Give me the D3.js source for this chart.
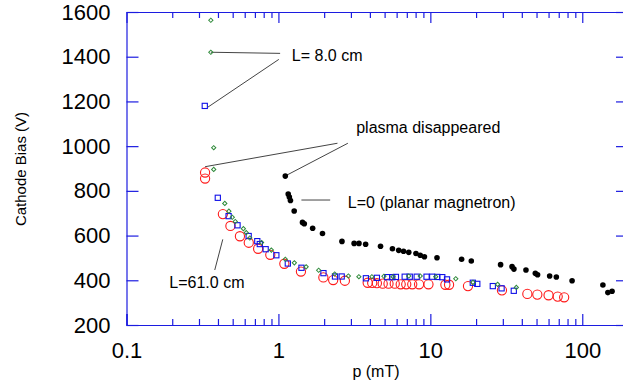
<!DOCTYPE html>
<html>
<head>
<meta charset="utf-8">
<script src="https://cdn.jsdelivr.net/npm/d3@7"></script>
<style>
  html, body { margin: 0; padding: 0; background: #fff; }
  svg { display: block; font-family: "Liberation Sans", Arial, Helvetica, sans-serif; }
</style>
</head>
<body>
<svg id="chart" width="623" height="389"></svg>
<script>
// ---- data (p in mT, cathode bias in V) ----
const blackP = [1.11,1.16,1.18,1.20,1.27,1.44,1.48,1.68,1.95,2.62,3.15,3.39,3.75,4.70,5.63,6.19,6.66,7.21,8.04,8.58,9.14,11.06,16.06,18.6,29.0,34.5,35.5,42.6,49.1,50.8,61.0,67.5,85.7,136.7,147.4,157.1];
const blackV = [866,786,772,757,710,659,653,633,609,574,565,565,561,552,541,534,530,525,520,512,505,501,494,486,470,461,450,446,431,425,419,415,398,379,345,351];

const redP = [0.329,0.329,0.431,0.483,0.558,0.638,0.735,0.884,1.094,1.407,1.976,2.293,2.738,3.869,4.143,4.448,4.858,5.304,5.83,6.38,6.94,7.60,8.43,9.72,12.56,13.28,17.69,29.6,43.5,50.6,60.0,68.9,76.0];
const redV = [882,855,696,643,597,568,541,514,474,439,413,401,398,389,388,387,385,385,385,382,382,382,382,382,380,380,374,355,339,336,333,327,324];

const blueP = [0.3275,0.399,0.470,0.538,0.637,0.726,0.754,0.824,0.969,1.153,1.418,1.979,2.357,2.609,3.765,4.448,5.202,5.61,5.934,6.78,7.32,8.13,9.44,10.29,11.1,11.98,12.88,19.03,20.37,25.77,29.44,35.42];
const blueV = [1180,769,687,646,598,575,562,539,512,475,456,432,417,417,409,411,414,414,415,416,416,416,416,416,415,414,404,389,384,374,364,353];

const greenP = [0.359,0.359,0.375,0.375,0.4435,0.472,0.497,0.520,0.588,0.614,0.648,0.775,0.898,1.110,1.273,1.522,1.840,2.346,2.887,3.385,4.124,4.948,5.680,7.206,8.580,10.85,14.70,19.08,27.72,36.81];
const greenV = [1563,1420,993,896,744,709,682,663,631,613,589,569,535,494,478,460,445,428,419,416,416,418,416,419,419,416,407,391,382,368];

const xMajorTicks = [0.1, 1, 10, 100];
const xTickLabels = ["0.1", "1", "10", "100"];
const yTicks = [200, 400, 600, 800, 1000, 1200, 1400, 1600];
const xTitle = "p (mT)";
const yTitle = "Cathode Bias (V)";

// annotations (text anchor / leader lines in data coordinates)
const annoTexts = [
  { t: "L= 8.0 cm", p: 1.225, v: 1381 },
  { t: "plasma disappeared", p: 3.25, v: 1059 },
  { t: "L=0 (planar magnetron)", p: 2.865, v: 725 },
  { t: "L=61.0 cm", p: 0.1914, v: 367 }
];
const annoLines = [
  [[0.359, 1420], [1.026, 1415]],
  [[1.006, 1388], [0.3426, 1174]],
  [[0.329, 908], [2.447, 1013]],
  [[1.119, 868], [2.865, 1013]],
  [[1.417, 759], [2.191, 759]],
  [[0.4302, 583], [0.381, 446]]
];

// ---- layout ----
const svg = d3.select("#chart");
const axisColor = "#1c1ce0";
const x = d3.scaleLog().domain([0.1, 200]).range([126.5, 628]);
const y = d3.scaleLinear().domain([200, 1600]).range([325, 12]);

const minorTicks = [];
[0.1, 1, 10, 100].forEach(d => { for (let k = 2; k <= 9; k++) { const v = d * k; if (v <= 200) minorTicks.push(+v.toPrecision(3)); } });

function styleAxis(g) {
  g.select(".domain").attr("stroke", axisColor).attr("stroke-width", 1.2);
  g.selectAll(".tick line").attr("stroke", axisColor).attr("stroke-width", 1.2);
  g.selectAll(".tick text").attr("fill", "#000").attr("font-size", 22)
    .attr("font-family", '"Liberation Sans", Arial, sans-serif');
}

// bottom axis
const gB = svg.append("g").attr("transform", `translate(0,${y(200)})`);
gB.call(d3.axisBottom(x).tickValues(xMajorTicks).tickFormat((d, i) => xTickLabels[i]).tickSize(-11).tickPadding(17)).call(styleAxis);
svg.append("g").attr("transform", `translate(0,${y(200)})`)
  .call(d3.axisBottom(x).tickValues(minorTicks).tickFormat("").tickSize(-6).tickSizeOuter(0))
  .call(g => { g.select(".domain").remove(); g.selectAll(".tick line").attr("stroke", axisColor).attr("stroke-width", 1.2); });

// top axis
svg.append("g").attr("transform", `translate(0,${y(1600)})`)
  .call(d3.axisTop(x).tickValues(xMajorTicks).tickFormat("").tickSize(-11).tickSizeOuter(0)).call(styleAxis);
svg.append("g").attr("transform", `translate(0,${y(1600)})`)
  .call(d3.axisTop(x).tickValues(minorTicks).tickFormat("").tickSize(-6).tickSizeOuter(0))
  .call(g => { g.select(".domain").remove(); g.selectAll(".tick line").attr("stroke", axisColor).attr("stroke-width", 1.2); });

// left axis
svg.append("g").attr("transform", `translate(${x(0.1)},0)`)
  .call(d3.axisLeft(y).tickValues(yTicks).tickFormat(d3.format("d")).tickSize(-12).tickSizeOuter(0).tickPadding(16))
  .call(styleAxis);
// right axis
svg.append("g").attr("transform", `translate(${x(200)},0)`)
  .call(d3.axisRight(y).tickValues(yTicks).tickFormat("").tickSize(-12).tickSizeOuter(0))
  .call(styleAxis);

// axis titles
svg.append("text").attr("x", 376).attr("y", 377).attr("text-anchor", "middle")
  .attr("font-size", 16).text(xTitle);
svg.append("text").attr("transform", "translate(26,169) rotate(-90)").attr("text-anchor", "middle")
  .attr("font-size", 15).text(yTitle);

// annotation lines
svg.append("g").selectAll("line").data(annoLines).join("line")
  .attr("x1", d => x(d[0][0])).attr("y1", d => y(d[0][1]))
  .attr("x2", d => x(d[1][0])).attr("y2", d => y(d[1][1]))
  .attr("stroke", "#444").attr("stroke-width", 1);

// series
const green = greenP.map((p, i) => [p, greenV[i]]);
const blue = blueP.map((p, i) => [p, blueV[i]]);
const red = redP.map((p, i) => [p, redV[i]]);
const black = blackP.map((p, i) => [p, blackV[i]]);

svg.append("g").selectAll("circle").data(red).join("circle")
  .attr("cx", d => x(d[0])).attr("cy", d => y(d[1])).attr("r", 4.6)
  .attr("fill", "none").attr("stroke", "#ff1a1a").attr("stroke-width", 1.1);

svg.append("g").selectAll("rect").data(blue).join("rect")
  .attr("x", d => x(d[0]) - 2.6).attr("y", d => y(d[1]) - 2.6).attr("width", 5.2).attr("height", 5.2)
  .attr("fill", "none").attr("stroke", "#1010e8").attr("stroke-width", 1.1);

const dsym = d3.symbol().type(d3.symbolSquare).size(9);
svg.append("g").selectAll("path").data(green).join("path")
  .attr("transform", d => `translate(${x(d[0])},${y(d[1])}) rotate(45)`)
  .attr("d", dsym).attr("fill", "none").attr("stroke", "#2f8a3a").attr("stroke-width", 1);

svg.append("g").selectAll("circle").data(black).join("circle")
  .attr("cx", d => x(d[0])).attr("cy", d => y(d[1])).attr("r", 2.8)
  .attr("fill", "#000");

// annotation text
svg.append("g").selectAll("text").data(annoTexts).join("text")
  .attr("x", d => x(d.p)).attr("y", d => y(d.v))
  .attr("font-size", 16).attr("fill", "#000").text(d => d.t);
</script>
</body>
</html>
